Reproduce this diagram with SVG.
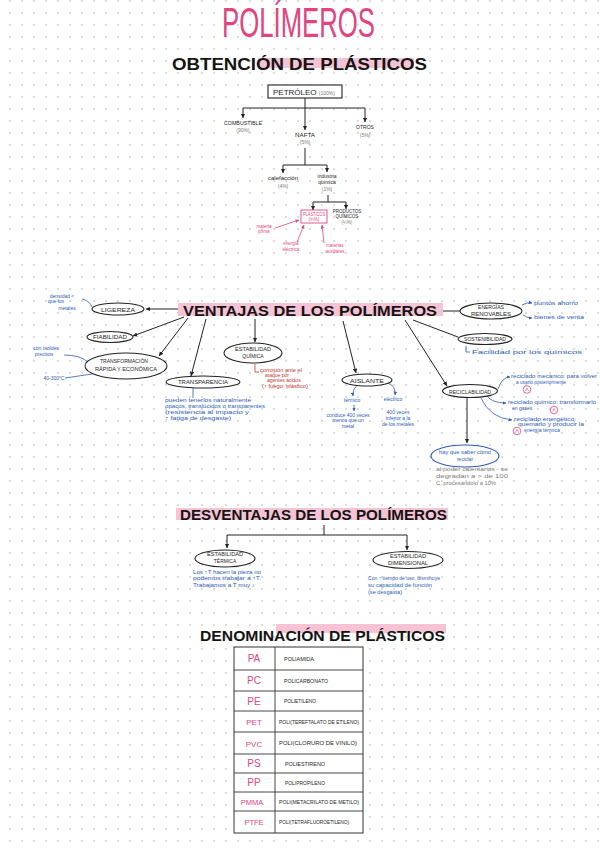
<svg xmlns="http://www.w3.org/2000/svg" width="601" height="848" viewBox="0 0 601 848">
<defs>
<pattern id="dots" x="4" y="-5" width="12" height="12" patternUnits="userSpaceOnUse"><circle cx="6" cy="6" r="0.9" fill="#cdcdcd"/></pattern>
<marker id="ak" viewBox="0 0 8 8" refX="7" refY="4" markerWidth="5" markerHeight="5" orient="auto" markerUnits="userSpaceOnUse"><path d="M0,0.5 L7.5,4 L0,7.5 Z" fill="#222"/></marker>
<marker id="ap" viewBox="0 0 8 8" refX="7" refY="4" markerWidth="4" markerHeight="4" orient="auto" markerUnits="userSpaceOnUse"><path d="M0,0.5 L7.5,4 L0,7.5 Z" fill="#e0457f"/></marker>
<marker id="ab" viewBox="0 0 8 8" refX="7" refY="4" markerWidth="4" markerHeight="4" orient="auto" markerUnits="userSpaceOnUse"><path d="M0,0.5 L7.5,4 L0,7.5 Z" fill="#2c5cb3"/></marker>
</defs>
<style>
text{font-family:"Liberation Sans",Arial,sans-serif}
.h{font-weight:bold;fill:#141414}
.k{fill:#1e1e1e}
.g{fill:#7a7a7a}
.b{fill:#2c5cb3}
.r{fill:#c0392b}
.p{fill:#e0457f}
.lk{stroke:#222;stroke-width:1;fill:none}
.lb{stroke:#2c5cb3;stroke-width:0.8;fill:none}
.lp{stroke:#e0457f;stroke-width:0.8;fill:none}
.lr{stroke:#c0392b;stroke-width:0.8;fill:none}
.el{fill:#fff;stroke:#222;stroke-width:1.1}
.hl{fill:#f6c3d5}
.s{font-size:5px}
.m{font-size:6px}
</style>
<rect width="601" height="848" fill="#fff"/>
<rect width="601" height="848" fill="url(#dots)"/>

<!-- Titles -->
<g id="title">
<text x="222" y="37" font-size="42" class="p" textLength="153" lengthAdjust="spacingAndGlyphs">POLÍMEROS</text>
</g>
<g id="obtencion-title">
<rect class="hl" x="258" y="58" width="156" height="10"/>
<text x="172" y="70" font-size="17" class="h" textLength="255" lengthAdjust="spacingAndGlyphs">OBTENCIÓN   DE   PLÁSTICOS</text>
</g>

<!-- Connectors -->
<g id="connectors">
<path class="lk" d="M305,98 V108 M243,108 H365"/>
<path class="lk" d="M243,108 V118" marker-end="url(#ak)"/>
<path class="lk" d="M305,108 V130" marker-end="url(#ak)"/>
<path class="lk" d="M365,108 V122" marker-end="url(#ak)"/>
<path class="lk" d="M305,148 V165 M283,165 H327"/>
<path class="lk" d="M283,165 V173" marker-end="url(#ak)"/>
<path class="lk" d="M327,165 V172" marker-end="url(#ak)"/>
<path class="lk" d="M328,195 V202 M313,202 H346"/>
<path class="lk" d="M313,202 V210" marker-end="url(#ak)"/>
<path class="lk" d="M346,202 V209" marker-end="url(#ak)"/>
<path class="lp" d="M275,228 L299,220" marker-end="url(#ap)"/>
<path class="lp" d="M297,242 L304,225" marker-end="url(#ap)"/>
<path class="lp" d="M324,243 L322,225" marker-end="url(#ap)"/>

<path class="lk" d="M178,309 H146" marker-end="url(#ak)"/>
<path class="lk" d="M184,317 L133,336" marker-end="url(#ak)"/>
<path class="lk" d="M188,318 L159,356" marker-end="url(#ak)"/>
<path class="lk" d="M206,319 L191,376" marker-end="url(#ak)"/>
<path class="lk" d="M255,319 V342" marker-end="url(#ak)"/>
<path class="lk" d="M343,321 L356,373" marker-end="url(#ak)"/>
<path class="lk" d="M405,320 L447,386" marker-end="url(#ak)"/>
<path class="lk" d="M413,320 L458,337"/>
<path class="lk" d="M443,311 H460"/>
<path class="lk" d="M467,398 V443" marker-end="url(#ak)"/>

<path class="lb" d="M82,299 Q90,301 92,307"/>
<path class="lb" d="M64,355 Q80,355 88,362"/>
<path class="lb" d="M65,378 L92,374"/>
<path class="lb" d="M193,388 V398"/>
<path class="lb" d="M357,385 Q352,390 353,396" marker-end="url(#ab)"/>
<path class="lb" d="M388,383 Q396,386 395,395" marker-end="url(#ab)"/>
<path class="lb" d="M354,405 V411" marker-end="url(#ab)"/>
<path class="lb" d="M522,305 Q527,302 532,303" marker-end="url(#ab)"/>
<path class="lb" d="M523,315 Q527,318 532,318" marker-end="url(#ab)"/>
<path class="lb" d="M466,346 V352 H470"/>
<path class="lb" d="M498,389 Q502,377 510,377" marker-end="url(#ab)"/>
<path class="lb" d="M487,396 Q492,403 506,403" marker-end="url(#ab)"/>
<path class="lb" d="M481,398 Q490,418 512,420" marker-end="url(#ab)"/>
<path class="lr" d="M255,364 V372 H259"/>

<path class="lk" d="M324,525 V535 M227,535 H407"/>
<path class="lk" d="M227,535 V548" marker-end="url(#ak)"/>
<path class="lk" d="M407,535 V550" marker-end="url(#ak)"/>
</g>

<!-- Obtención nodes -->
<g id="petroleo">
<rect x="268" y="85" width="74" height="13" fill="#fff" stroke="#222" stroke-width="1.1"/>
<text x="273" y="94.5" font-size="8" class="k">PETRÓLEO <tspan font-size="5" class="g">(100%)</tspan></text>
</g>
<g id="combustible">
<text x="243" y="125" text-anchor="middle" class="s k" textLength="38" lengthAdjust="spacingAndGlyphs">COMBUSTIBLE</text>
<text x="243" y="132" text-anchor="middle" class="s g">(90%)</text>
</g>
<g id="nafta">
<text x="305" y="137" text-anchor="middle" class="s k" textLength="20" lengthAdjust="spacingAndGlyphs">NAFTA</text>
<text x="305" y="144" text-anchor="middle" class="s g">(5%)</text>
</g>
<g id="otros">
<text x="365" y="129" text-anchor="middle" class="s k">OTROS</text>
<text x="365" y="137" text-anchor="middle" class="s g">(5%)</text>
</g>
<g id="calefaccion">
<text x="283" y="180" text-anchor="middle" class="s k" textLength="30" lengthAdjust="spacingAndGlyphs">calefacción</text>
<text x="283" y="188" text-anchor="middle" class="s g">(4%)</text>
</g>
<g id="industria">
<text x="327" y="178" text-anchor="middle" class="s k">industria</text>
<text x="327" y="184" text-anchor="middle" class="s k">química</text>
<text x="327" y="191" text-anchor="middle" class="s g">(1%)</text>
</g>
<g id="plasticos">
<rect x="301" y="210" width="26" height="13" fill="#fff" stroke="#e0457f" stroke-width="0.9"/>
<text x="314" y="215.5" text-anchor="middle" font-size="4.5" class="p" textLength="22" lengthAdjust="spacingAndGlyphs">PLÁSTICOS</text>
<text x="314" y="221" text-anchor="middle" font-size="4.5" class="p">(¾%)</text>
</g>
<g id="productos">
<text x="347" y="213" text-anchor="middle" font-size="4.5" class="k">PRODUCTOS</text>
<text x="347" y="218" text-anchor="middle" font-size="4.5" class="k">QUÍMICOS</text>
<text x="347" y="224" text-anchor="middle" font-size="4.5" class="g">(¼%)</text>
</g>
<g id="materia-prima">
<text x="264" y="228" text-anchor="middle" font-size="4.5" class="p">materia</text>
<text x="264" y="233" text-anchor="middle" font-size="4.5" class="p">prima</text>
</g>
<g id="energia">
<text x="291" y="245" text-anchor="middle" font-size="4.5" class="p">energía</text>
<text x="291" y="251" text-anchor="middle" font-size="4.5" class="p">eléctrica</text>
</g>
<g id="materias-aux">
<text x="335" y="247" text-anchor="middle" font-size="4.5" class="p">materias</text>
<text x="335" y="253" text-anchor="middle" font-size="4.5" class="p">auxiliares</text>
</g>

<!-- Ventajas -->
<g id="ventajas-title">
<rect class="hl" x="178" y="303" width="265" height="13"/>
<text x="183" y="316" font-size="15" class="h" textLength="254" lengthAdjust="spacingAndGlyphs">VENTAJAS   DE   LOS   POLÍMEROS</text>
</g>
<g id="ligereza">
<ellipse class="el" cx="118" cy="309" rx="26" ry="6"/>
<text x="118" y="311.5" text-anchor="middle" class="m k" textLength="34" lengthAdjust="spacingAndGlyphs">LIGEREZA</text>
<text x="62" y="298" text-anchor="middle" class="s b">densidad &lt;</text>
<text x="56" y="303" text-anchor="middle" class="s b">que los</text>
<text x="67" y="310" text-anchor="middle" class="s b">metales</text>
</g>
<g id="fiabilidad">
<ellipse class="el" cx="110" cy="337" rx="23" ry="5.5"/>
<text x="110" y="339" text-anchor="middle" class="s k" textLength="34" lengthAdjust="spacingAndGlyphs">FIABILIDAD</text>
</g>
<g id="transformacion">
<ellipse class="el" cx="126" cy="366" rx="41" ry="13"/>
<text x="124" y="363" text-anchor="middle" class="s k" textLength="48" lengthAdjust="spacingAndGlyphs">TRANSFORMACIÓN</text>
<text x="126" y="371" text-anchor="middle" class="s k" textLength="62" lengthAdjust="spacingAndGlyphs">RÁPIDA Y ECONÓMICA</text>
<text x="46" y="350" text-anchor="middle" class="s b">con moldes</text>
<text x="44" y="356" text-anchor="middle" class="s b">precisos</text>
<text x="54" y="379.5" text-anchor="middle" class="s b">40-300°C</text>
</g>
<g id="transparencia">
<ellipse class="el" cx="203" cy="382" rx="37" ry="6"/>
<text x="203" y="384" text-anchor="middle" class="s k" textLength="50" lengthAdjust="spacingAndGlyphs">TRANSPARENCIA</text>
<text x="165" y="402" class="s b" textLength="86" lengthAdjust="spacingAndGlyphs">pueden tenerlos naturalmente</text>
<text x="165" y="408" class="s b" textLength="100" lengthAdjust="spacingAndGlyphs">opacos, translúcidos o transparentes</text>
<text x="165" y="414" class="s b" textLength="84" lengthAdjust="spacingAndGlyphs">(resistencia al impacto  y</text>
<text x="165" y="420" class="s b" textLength="66" lengthAdjust="spacingAndGlyphs">↑ fatiga de desgaste)</text>
</g>
<g id="estabilidad-quimica">
<ellipse class="el" cx="253" cy="353" rx="29" ry="10"/>
<text x="253" y="351" text-anchor="middle" class="s k" textLength="36" lengthAdjust="spacingAndGlyphs">ESTABILIDAD</text>
<text x="253" y="358" text-anchor="middle" class="s k">QUÍMICA</text>
<text x="260" y="372" class="s r" textLength="42" lengthAdjust="spacingAndGlyphs">corrosión ante el</text>
<text x="265" y="377" class="s r">ataque por</text>
<text x="267" y="382" class="s r">agentes ácidos</text>
<text x="262" y="388" class="s r" textLength="46" lengthAdjust="spacingAndGlyphs">(↑ fuego: plástico)</text>
</g>
<g id="aislante">
<ellipse class="el" cx="367" cy="380" rx="25" ry="6"/>
<text x="367" y="382.5" text-anchor="middle" class="m k" textLength="34" lengthAdjust="spacingAndGlyphs">AISLANTE</text>
<text x="352" y="402" text-anchor="middle" class="s b">térmico</text>
<text x="348" y="417" text-anchor="middle" class="s b">conduce 400 veces</text>
<text x="348" y="422" text-anchor="middle" class="s b">menos que un</text>
<text x="348" y="427.5" text-anchor="middle" class="s b">metal</text>
<text x="393" y="401" text-anchor="middle" class="s b">eléctrico</text>
<text x="398" y="414" text-anchor="middle" class="s b">400 veces</text>
<text x="398" y="420" text-anchor="middle" class="s b">inferior a la</text>
<text x="398" y="426" text-anchor="middle" class="s b">de los metales</text>
</g>
<g id="reciclabilidad">
<ellipse class="el" cx="470" cy="391" rx="27.5" ry="6.5"/>
<text x="470" y="393.5" text-anchor="middle" class="s k" textLength="42" lengthAdjust="spacingAndGlyphs">RECICLABILIDAD</text>
<text x="511" y="378" class="s b" textLength="86" lengthAdjust="spacingAndGlyphs">reciclado mecánico: para volver</text>
<text x="516" y="384" class="s b" textLength="50" lengthAdjust="spacingAndGlyphs">a usarlo posteriormente</text>
<circle cx="527" cy="389.5" r="3.8" fill="none" stroke="#e0457f" stroke-width="0.8"/>
<path d="M525.5,391 L527,388 L528.5,391" fill="none" stroke="#e0457f" stroke-width="0.6"/>
<text x="508" y="404" class="s b" textLength="88" lengthAdjust="spacingAndGlyphs">reciclado químico: transformarlo</text>
<text x="512" y="410" class="s b">en gases</text>
<circle cx="554" cy="410" r="3.8" fill="none" stroke="#e0457f" stroke-width="0.8"/>
<path d="M552.5,411.5 L554,408.5 L555.5,411.5" fill="none" stroke="#e0457f" stroke-width="0.6"/>
<text x="514" y="421" class="s b" textLength="62" lengthAdjust="spacingAndGlyphs">reciclado energético:</text>
<text x="518" y="426" class="s b" textLength="66" lengthAdjust="spacingAndGlyphs">quemarlo y producir la</text>
<text x="524" y="431.5" class="s b" textLength="36" lengthAdjust="spacingAndGlyphs">energía térmica</text>
<circle cx="517" cy="431" r="3.8" fill="none" stroke="#e0457f" stroke-width="0.8"/>
<path d="M515.5,432.5 L517,429.5 L518.5,432.5" fill="none" stroke="#e0457f" stroke-width="0.6"/>
</g>
<g id="saber-reciclar">
<ellipse cx="465" cy="456" rx="34" ry="11" fill="#fff" stroke="#2c5cb3" stroke-width="1.1"/>
<text x="465" y="453.5" text-anchor="middle" class="s b" textLength="52" lengthAdjust="spacingAndGlyphs">hay que saber cómo</text>
<text x="465" y="460.5" text-anchor="middle" class="s b">reciclar</text>
<text x="436" y="471" class="s g" textLength="72" lengthAdjust="spacingAndGlyphs">al poder calentarlos - se</text>
<text x="436" y="478" class="s g" textLength="72" lengthAdjust="spacingAndGlyphs">degradan a &gt; de 100</text>
<text x="436" y="485" class="s g" textLength="60" lengthAdjust="spacingAndGlyphs">C, procesándolo a 10%</text>
</g>
<g id="energias">
<ellipse class="el" cx="491" cy="311" rx="31" ry="8"/>
<text x="491" y="309" text-anchor="middle" class="s k">ENERGÍAS</text>
<text x="491" y="316" text-anchor="middle" class="s k" textLength="40" lengthAdjust="spacingAndGlyphs">RENOVABLES</text>
<text x="534" y="305" class="s b" textLength="44" lengthAdjust="spacingAndGlyphs">puntos ahorro</text>
<text x="534" y="319" class="s b" textLength="50" lengthAdjust="spacingAndGlyphs">bienes de venta</text>
</g>
<g id="sostenibilidad">
<ellipse class="el" cx="485" cy="339" rx="27" ry="5.5"/>
<text x="485" y="341" text-anchor="middle" class="s k" textLength="42" lengthAdjust="spacingAndGlyphs">SOSTENIBILIDAD</text>
<text x="472" y="354" class="s b" textLength="110" lengthAdjust="spacingAndGlyphs">Facilidad   por   los   químicos</text>
</g>

<!-- Desventajas -->
<g id="desventajas-title">
<rect class="hl" x="176" y="508" width="272" height="12"/>
<text x="180" y="520" font-size="15" class="h" textLength="267" lengthAdjust="spacingAndGlyphs">DESVENTAJAS   DE   LOS   POLÍMEROS</text>
</g>
<g id="estabilidad-termica">
<ellipse class="el" cx="225" cy="558.5" rx="30" ry="8.5"/>
<text x="225" y="556" text-anchor="middle" class="s k" textLength="36" lengthAdjust="spacingAndGlyphs">ESTABILIDAD</text>
<text x="225" y="563" text-anchor="middle" class="s k">TÉRMICA</text>
<text x="193" y="574" class="s b" textLength="68" lengthAdjust="spacingAndGlyphs">Los ↑T hacen la pieza no</text>
<text x="193" y="580" class="s b" textLength="68" lengthAdjust="spacingAndGlyphs">podemos trabajar a ↑T.</text>
<text x="193" y="587" class="s b" textLength="62" lengthAdjust="spacingAndGlyphs">Trabajamos a T muy ↓</text>
</g>
<g id="estabilidad-dimensional">
<ellipse class="el" cx="408" cy="560" rx="35" ry="8.5"/>
<text x="408" y="557.5" text-anchor="middle" class="s k" textLength="36" lengthAdjust="spacingAndGlyphs">ESTABILIDAD</text>
<text x="408" y="564.5" text-anchor="middle" class="s k" textLength="40" lengthAdjust="spacingAndGlyphs">DIMENSIONAL</text>
<text x="368" y="580" class="s b" textLength="72" lengthAdjust="spacingAndGlyphs">Con ↑ tiempo de uso, disminuye</text>
<text x="368" y="587" class="s b" textLength="64" lengthAdjust="spacingAndGlyphs">su capacidad de función</text>
<text x="368" y="594" class="s b" textLength="34" lengthAdjust="spacingAndGlyphs">(se desgasta)</text>
</g>

<!-- Denominación -->
<g id="denominacion-title">
<rect class="hl" x="276" y="624" width="170" height="9"/>
<text x="200" y="641" font-size="14" class="h" textLength="245" lengthAdjust="spacingAndGlyphs">DENOMINACIÓN   DE   PLÁSTICOS</text>
</g>
<g id="tabla">
<rect x="234" y="647" width="129" height="186" fill="#fff" stroke="#333" stroke-width="1"/>
<path d="M275,647 V833 M234,670 H363 M234,691 H363 M234,711 H363 M234,732 H363 M234,754 H363 M234,773 H363 M234,792 H363 M234,811 H363" stroke="#333" stroke-width="0.9" fill="none"/>
<g font-size="10" class="p" text-anchor="middle">
<text x="254" y="662">PA</text>
<text x="254" y="684">PC</text>
<text x="254" y="704.5">PE</text>
<text x="254" y="725" font-size="8">PET</text>
<text x="254" y="746.5" font-size="8">PVC</text>
<text x="254" y="767">PS</text>
<text x="254" y="786">PP</text>
<text x="252" y="804.5" font-size="7.5">PMMA</text>
<text x="254" y="825" font-size="7.5">PTFE</text>
</g>
<g class="s k">
<text x="284" y="660.5" textLength="30" lengthAdjust="spacingAndGlyphs">POLIAMIDA</text>
<text x="284" y="682.5" textLength="44" lengthAdjust="spacingAndGlyphs">POLICARBONATO</text>
<text x="284" y="703" textLength="32" lengthAdjust="spacingAndGlyphs">POLIETILENO</text>
<text x="279" y="723.5" textLength="80" lengthAdjust="spacingAndGlyphs">POLI(TEREFTALATO DE ETILENO)</text>
<text x="279" y="745" textLength="78" lengthAdjust="spacingAndGlyphs">POLI(CLORURO DE VINILO)</text>
<text x="285" y="765.5" textLength="40" lengthAdjust="spacingAndGlyphs">POLIESTIRENO</text>
<text x="285" y="784.5" textLength="40" lengthAdjust="spacingAndGlyphs">POLIPROPILENO</text>
<text x="279" y="803.5" textLength="80" lengthAdjust="spacingAndGlyphs">POLI(METACRILATO DE METILO)</text>
<text x="279" y="824" textLength="70" lengthAdjust="spacingAndGlyphs">POLI(TETRAFLUOROETILENO)</text>
</g>
</g>
</svg>
